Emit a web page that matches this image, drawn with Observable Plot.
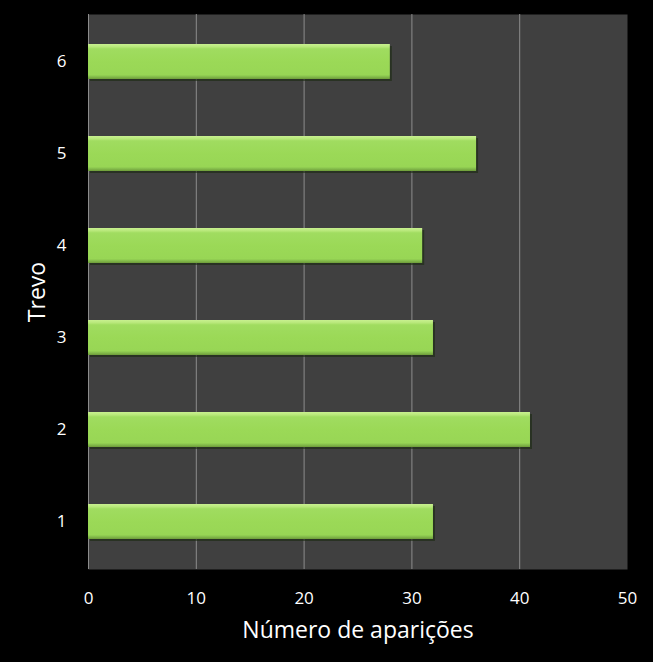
<!DOCTYPE html>
<html><head><meta charset="utf-8">
<script src="https://cdn.jsdelivr.net/npm/d3@7"></script>
<script src="https://cdn.jsdelivr.net/npm/@observablehq/plot@0.6"></script>
<style>
html,body{margin:0;padding:0;background:#000;}
</style>
</head><body>
<div id="chart"></div>
<script>
const categories = ["1", "2", "3", "4", "5", "6"];
const values = [32, 41, 32, 31, 36, 28];
const xTicks = [0, 10, 20, 30, 40, 50];

const data = categories.map((c, i) => ({trevo: c, n: values[i]}));

const chart = Plot.plot({
  width: 653,
  height: 662,
  marginLeft: 88,
  marginRight: 26,
  marginTop: 14,
  marginBottom: 93,
  style: {background: "#000", color: "#fff", fontFamily: "'Open Sans', sans-serif"},
  x: {domain: [0, 50], ticks: xTicks},
  y: {domain: categories.slice().reverse(), paddingInner: 0.62, paddingOuter: 0.31},
  marks: [
    Plot.frame({fill: "#404040", stroke: null}),
    Plot.gridX(xTicks.filter(d => d > 0 && d < 50), {stroke: "#8c8c8c", strokeOpacity: 1, strokeWidth: 1}),
    Plot.ruleX([0], {stroke: "#8c8c8c"}),
    Plot.ruleY([0], {frameAnchor: "bottom", stroke: "#8c8c8c"}),
    Plot.barX(data, {y: "trevo", x: "n", fill: "#1a2a10", dx: 2, dy: 2, fillOpacity: 0.6}),
    Plot.barX(data, {y: "trevo", x: "n", fill: "url(#barGrad)"}),
    Plot.axisX(xTicks, {tickSize: 0, tickPadding: 22, fontSize: 17, label: null}),
    Plot.axisY({tickSize: 0, tickPadding: 22, fontSize: 17, label: null}),
    Plot.text(["Número de aparições"], {frameAnchor: "bottom", dy: 68, fontSize: 23, fill: "#fff", textAnchor: "middle"}),
    Plot.text(["Trevo"], {frameAnchor: "left", dx: -51, rotate: -90, fontSize: 23, fill: "#fff", textAnchor: "middle"})
  ]
});

const svg = d3.select(chart);
const defs = svg.insert("defs", ":first-child");
const g = defs.append("linearGradient").attr("id", "barGrad").attr("x1", 0).attr("y1", 0).attr("x2", 0).attr("y2", 1);
[[0, "#c8f090"], [0.08, "#b8e87a"], [0.14, "#a0dc60"], [0.5, "#9bd957"], [0.88, "#98d655"], [0.93, "#86bf4c"], [1, "#6e9c3a"]]
  .forEach(([o, c]) => g.append("stop").attr("offset", o).attr("stop-color", c));

document.getElementById("chart").appendChild(chart);
</script>
</body></html>
